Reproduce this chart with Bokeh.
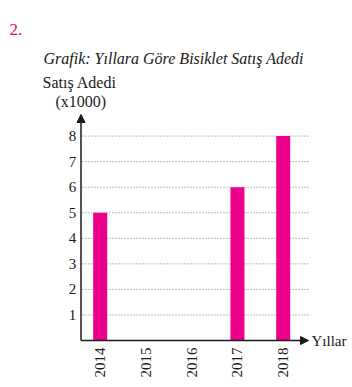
from bokeh.plotting import figure
from bokeh.models import Range1d, Arrow, NormalHead, ColumnDataSource
from bokeh.core.properties import value
from bokeh.embed import file_html
from bokeh.resources import INLINE
import math

years = ["2014", "2015", "2016", "2017", "2018"]
sales = [5, 0, 0, 6, 8]
y_ticks = [1, 2, 3, 4, 5, 6, 7, 8]
y_tick_labels = ["1", "2", "3", "4", "5", "6", "7", "8"]

W, H = 352, 387
X0, DX = 99.7, 45.75
Y0, DY = 340.0, 25.55
def xd(px):
    return (px - X0) / DX
def yd(py):
    return (Y0 - py) / DY

p = figure(width=W, height=H, output_backend="svg", toolbar_location=None,
           x_range=Range1d(xd(0), xd(W)), y_range=Range1d(yd(H), yd(0)),
           min_border=0, outline_line_color=None)
p.axis.visible = False
p.grid.visible = False
p.background_fill_color = "white"
p.border_fill_color = "white"

xs = list(range(len(years)))
FONT = value("Liberation Serif")
INK = "#1a1a1a"

gx0, gx1 = xd(82), xd(309)
p.segment(x0=[gx0] * len(y_ticks), x1=[gx1] * len(y_ticks), y0=y_ticks, y1=y_ticks,
          line_color="#7a7a7a", line_width=1, line_dash="1 2")

src = ColumnDataSource(dict(x=xs, top=sales))
p.vbar(x="x", top="top", bottom=0, width=14 / DX, source=src,
       fill_color="#EC008C", line_color=None)

ax = xd(80.5)
p.add_layout(Arrow(x_start=ax, y_start=0, x_end=ax, y_end=yd(114),
                   line_color=INK, line_width=1.5,
                   end=NormalHead(size=8, fill_color=INK, line_color=INK)))
p.add_layout(Arrow(x_start=ax, y_start=0, x_end=xd(308), y_end=0,
                   line_color=INK, line_width=1.5,
                   end=NormalHead(size=8, fill_color=INK, line_color=INK)))

p.text(x=[xd(72)] * len(y_ticks), y=y_ticks, text=y_tick_labels,
       text_font=FONT, text_font_size="15px", text_color=INK,
       text_align="center", text_baseline="middle")

p.text(x=xs, y=[yd(347)] * len(xs), text=years, angle=math.pi / 2,
       text_font=FONT, text_font_size="15px", text_color=INK,
       text_align="right", text_baseline="middle")

def put(px, py, s, size, color=INK, style="normal", align="left"):
    p.text(x=[xd(px)], y=[yd(py)], text=[s], text_font=FONT, text_font_size=size,
           text_font_style=style, text_color=color, text_align=align,
           text_baseline="middle")

put(311, 340, "Yıllar", "15px")
put(9, 29, "2.", "17px", color="#E6007E")
put(43, 58, "Grafik: Yıllara Göre Bisiklet Satış Adedi", "16px", style="italic")
put(42, 82, "Satış Adedi", "16px")
put(55, 101, "(x1000)", "16px")

open("out.html", "w").write(file_html(p, INLINE))
